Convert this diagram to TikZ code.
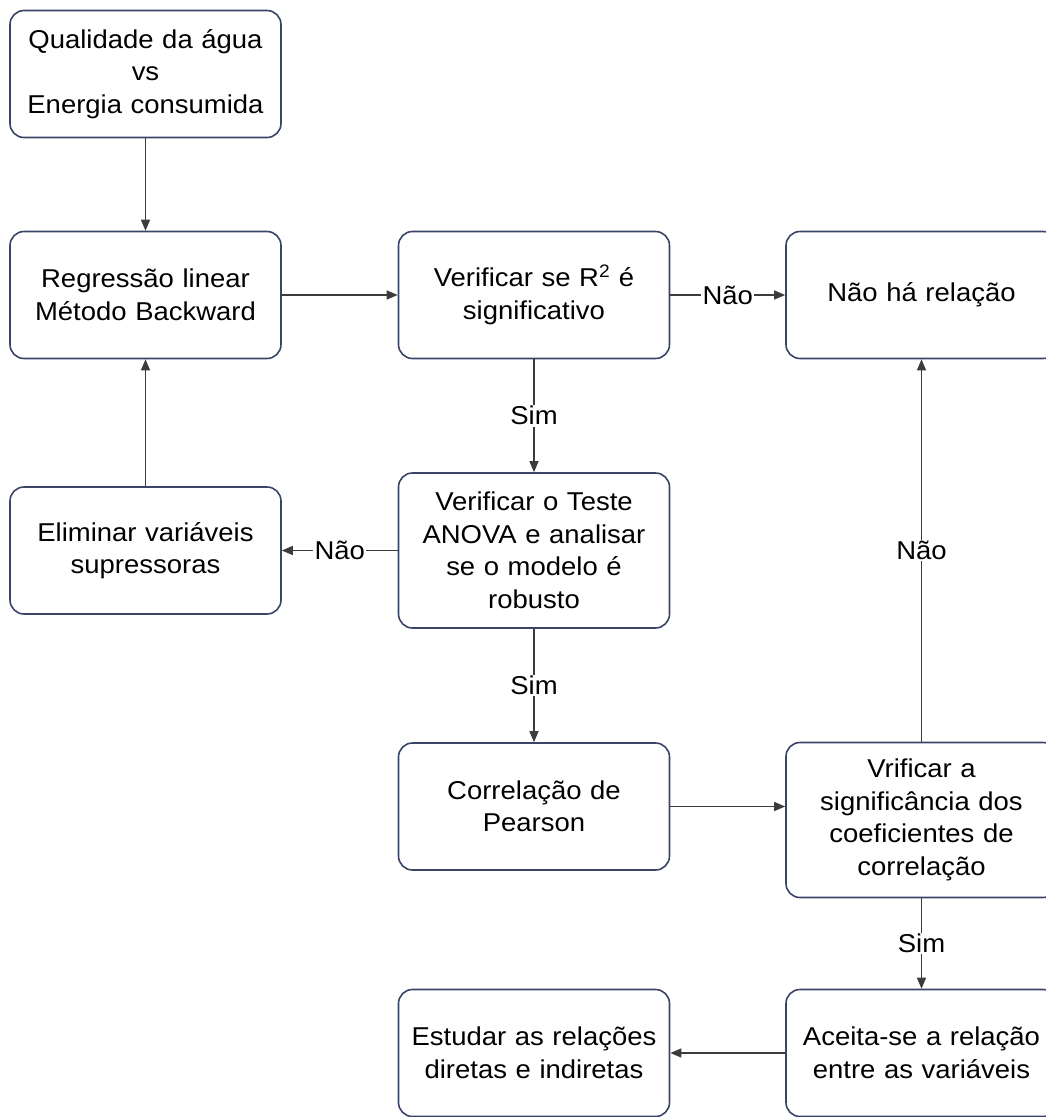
\documentclass[tikz,border=0pt]{standalone}
\usepackage{fontspec}
\setmainfont{Liberation Sans}[FakeStretch=1.065]
\usetikzlibrary{arrows.meta}
\definecolor{boxline}{HTML}{3A4466}
\definecolor{arrowline}{HTML}{3C3C3C}
\begin{document}
\begin{tikzpicture}[x=1pt,y=-1pt,
  box/.style={draw=boxline, line width=1.6pt, rounded corners=14pt,
    minimum width=271pt, minimum height=127pt, align=center,
    font=\fontsize{25.8}{32.5}\selectfont, inner sep=0pt, text width=265pt},
  conn/.style={draw=arrowline, line width=1.3pt, -{Triangle[length=11pt,width=9pt]}},
  lbl/.style={fill=white, inner sep=1.5pt, font=\fontsize{25.8}{32.5}\selectfont}]
\useasboundingbox (0,0) rectangle (1046,1117);

\node[box] (b1) at (145.5,74) {Qualidade da água\\vs\\Energia consumida};
\node[box] (b2) at (145.5,295) {Regressão linear\\Método Backward};
\node[box] (b3) at (534,295) {Verificar se R\textsuperscript{2} é\\significativo};
\node[box] (b4) at (921.5,295) {Não há relação};
\node[box] (b5) at (145.5,550.5) {Eliminar variáveis\\supressoras};
\node[box, minimum height=155pt] (b6) at (534,550.5) {Verificar o Teste\\ANOVA e analisar\\se o modelo é\\robusto};
\node[box] (b7) at (534,806.5) {Correlação de\\Pearson};
\node[box, minimum height=155pt] (b8) at (921.5,820) {Vrificar a\\significância dos\\coeficientes de\\correlação};
\node[box] (b9) at (921.5,1053) {Aceita-se a relação\\entre as variáveis};
\node[box] (b10) at (534,1053) {Estudar as relações\\diretas e indiretas};

\draw[conn] (b1) -- (b2);
\draw[conn] (b2) -- (b3);
\draw[conn] (b3) -- node[lbl] {Não} (b4);
\draw[conn] (b3) -- node[lbl] {Sim} (b6);
\draw[conn] (b6) -- node[lbl] {Não} (b5);
\draw[conn] (b5) -- (b2);
\draw[conn] (b6) -- node[lbl] {Sim} (b7);
\draw[conn] (b7.east) -- (b7.east -| b8.west);
\draw[conn] (b8) -- node[lbl] {Não} (b4);
\draw[conn] (b8) -- node[lbl] {Sim} (b9);
\draw[conn] (b9) -- (b10);
\end{tikzpicture}
\end{document}
